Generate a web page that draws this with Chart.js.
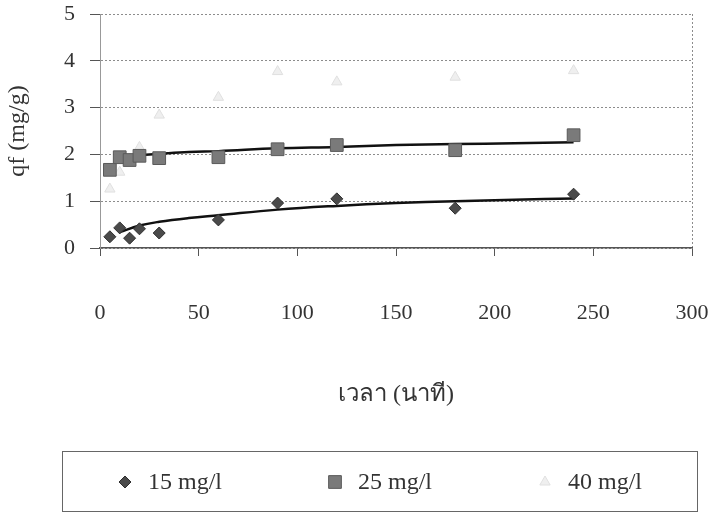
<!DOCTYPE html>
<html>
<head>
<meta charset="utf-8">
<script src="https://cdn.jsdelivr.net/npm/chart.js@4"></script>
<style>
  html, body { margin: 0; padding: 0; background: #fff; }
</style>
</head>
<body>
<canvas id="myChart" width="712" height="514"></canvas>
<script>
// เวลา (นาที)
const times = [5, 10, 15, 20, 30, 60, 90, 120, 180, 240];
// qf (mg/g) ที่ความเข้มข้นเริ่มต้นต่างๆ
const q15 = [0.24, 0.43, 0.21, 0.41, 0.32, 0.60, 0.96, 1.05, 0.85, 1.15];
const q25 = [1.67, 1.94, 1.88, 1.97, 1.92, 1.94, 2.11, 2.20, 2.09, 2.41];
const q40 = [1.26, 1.62, 1.90, 2.15, 2.84, 3.22, 3.77, 3.55, 3.65, 3.79];
// เส้นแนวโน้ม
const trendTimes = [10, 20, 30, 45, 60, 90, 120, 150, 180, 210, 240];
const trend15 = [0.34, 0.48, 0.56, 0.64, 0.70, 0.82, 0.90, 0.96, 1.00, 1.03, 1.06];
const trend25 = [1.93, 1.98, 2.01, 2.05, 2.07, 2.13, 2.16, 2.20, 2.22, 2.24, 2.26];
const seriesLabels = ['15 mg/l', '25 mg/l', '40 mg/l'];
const xTicks = [0, 50, 100, 150, 200, 250, 300];
const yTicks = [0, 1, 2, 3, 4, 5];

const serif = "'Liberation Serif', 'Times New Roman', serif";
const textColor = '#333';

const toPoints = (xs, ys) => xs.map((x, i) => ({x: x, y: ys[i]}));

// กรอบคำอธิบายสัญลักษณ์ใต้กราฟ
const legendBox = {
  id: 'legendBox',
  afterDraw(chart) {
    const ctx = chart.ctx;
    ctx.save();
    ctx.strokeStyle = '#666';
    ctx.lineWidth = 1;
    ctx.strokeRect(62.5, 451.5, 635, 60);
    const xs = [125, 335, 545];
    const y = 482;
    chart.data.datasets.filter(ds => ds.inLegend).forEach((ds, i) => {
      ctx.fillStyle = ds.backgroundColor;
      ctx.strokeStyle = ds.borderColor;
      ctx.lineWidth = ds.borderWidth;
      Chart.helpers.drawPoint(ctx, {
        pointStyle: ds.pointStyle, radius: ds.pointRadius, rotation: 0, borderWidth: ds.borderWidth
      }, xs[i], y);
      ctx.fillStyle = textColor;
      ctx.font = '24px ' + serif;
      ctx.textBaseline = 'middle';
      ctx.textAlign = 'left';
      ctx.fillText(ds.label, xs[i] + 23, y + 1);
    });
    ctx.restore();
  }
};

const myChart = new Chart(document.getElementById('myChart').getContext('2d'), {
  type: 'scatter',
  data: {
    datasets: [
      {
        label: seriesLabels[0], inLegend: true, order: 1,
        data: toPoints(times, q15),
        pointStyle: 'rectRot', pointRadius: 6, borderWidth: 1,
        backgroundColor: '#4a4a4a', borderColor: '#2e2e2e'
      },
      {
        label: seriesLabels[1], inLegend: true, order: 1,
        data: toPoints(times, q25),
        pointStyle: 'rect', pointRadius: 9, borderWidth: 1,
        backgroundColor: '#7a7a7a', borderColor: '#5a5a5a'
      },
      {
        label: seriesLabels[2], inLegend: true, order: 1,
        data: toPoints(times, q40),
        pointStyle: 'triangle', pointRadius: 6, borderWidth: 1,
        backgroundColor: '#efefef', borderColor: '#e0e0e0'
      },
      {
        type: 'line', label: 'trend 15', order: 2,
        data: toPoints(trendTimes, trend15),
        borderColor: '#111', borderWidth: 2.5, pointRadius: 0, tension: 0.4, fill: false
      },
      {
        type: 'line', label: 'trend 25', order: 2,
        data: toPoints(trendTimes, trend25),
        borderColor: '#111', borderWidth: 2.5, pointRadius: 0, tension: 0.4, fill: false
      }
    ]
  },
  options: {
    responsive: false,
    animation: false,
    devicePixelRatio: 1,
    layout: { padding: { left: 0, right: 20, top: 14, bottom: 63 } },
    plugins: {
      legend: { display: false },
      tooltip: { enabled: false }
    },
    scales: {
      x: {
        type: 'linear',
        min: xTicks[0], max: xTicks[xTicks.length - 1],
        afterBuildTicks: (scale) => { scale.ticks = xTicks.map(v => ({value: v})); },
        // ความสูงแกนคงที่ และไม่ให้ป้ายตัวเลขดันขอบกราฟ
        afterFit: (scale) => { scale.height = 203; scale.paddingLeft = 0; scale.paddingRight = 0; },
        ticks: { padding: 44, color: textColor, font: { family: serif, size: 22 } },
        grid: {
          color: (c) => (c.tick && c.tick.value === 300) ? '#8c8c8c' : 'rgba(0,0,0,0)',
          tickColor: '#555', tickLength: 8, lineWidth: 1
        },
        border: { color: '#555', width: 1.5, dash: [2, 2] },
        title: {
          display: true, text: 'เวลา (นาที)', color: textColor,
          font: { family: serif + ", 'Noto Sans', 'DejaVu Sans'", size: 24 },
          padding: { top: 0, bottom: 42 }
        }
      },
      y: {
        min: yTicks[0], max: yTicks[yTicks.length - 1],
        afterBuildTicks: (scale) => { scale.ticks = yTicks.map(v => ({value: v})); },
        afterFit: (scale) => { scale.width = 100; scale.paddingTop = 0; scale.paddingBottom = 0; },
        ticks: { padding: 15, color: textColor, font: { family: serif, size: 22 } },
        grid: { color: '#8c8c8c', tickColor: '#555', tickLength: 10, lineWidth: 1 },
        border: { color: '#999', width: 1, dash: [2, 2] },
        title: {
          display: true, text: 'qf (mg/g)', color: textColor,
          font: { family: serif, size: 24 },
          padding: { top: 3, bottom: 0 }
        }
      }
    }
  },
  plugins: [legendBox]
});
</script>
</body>
</html>
